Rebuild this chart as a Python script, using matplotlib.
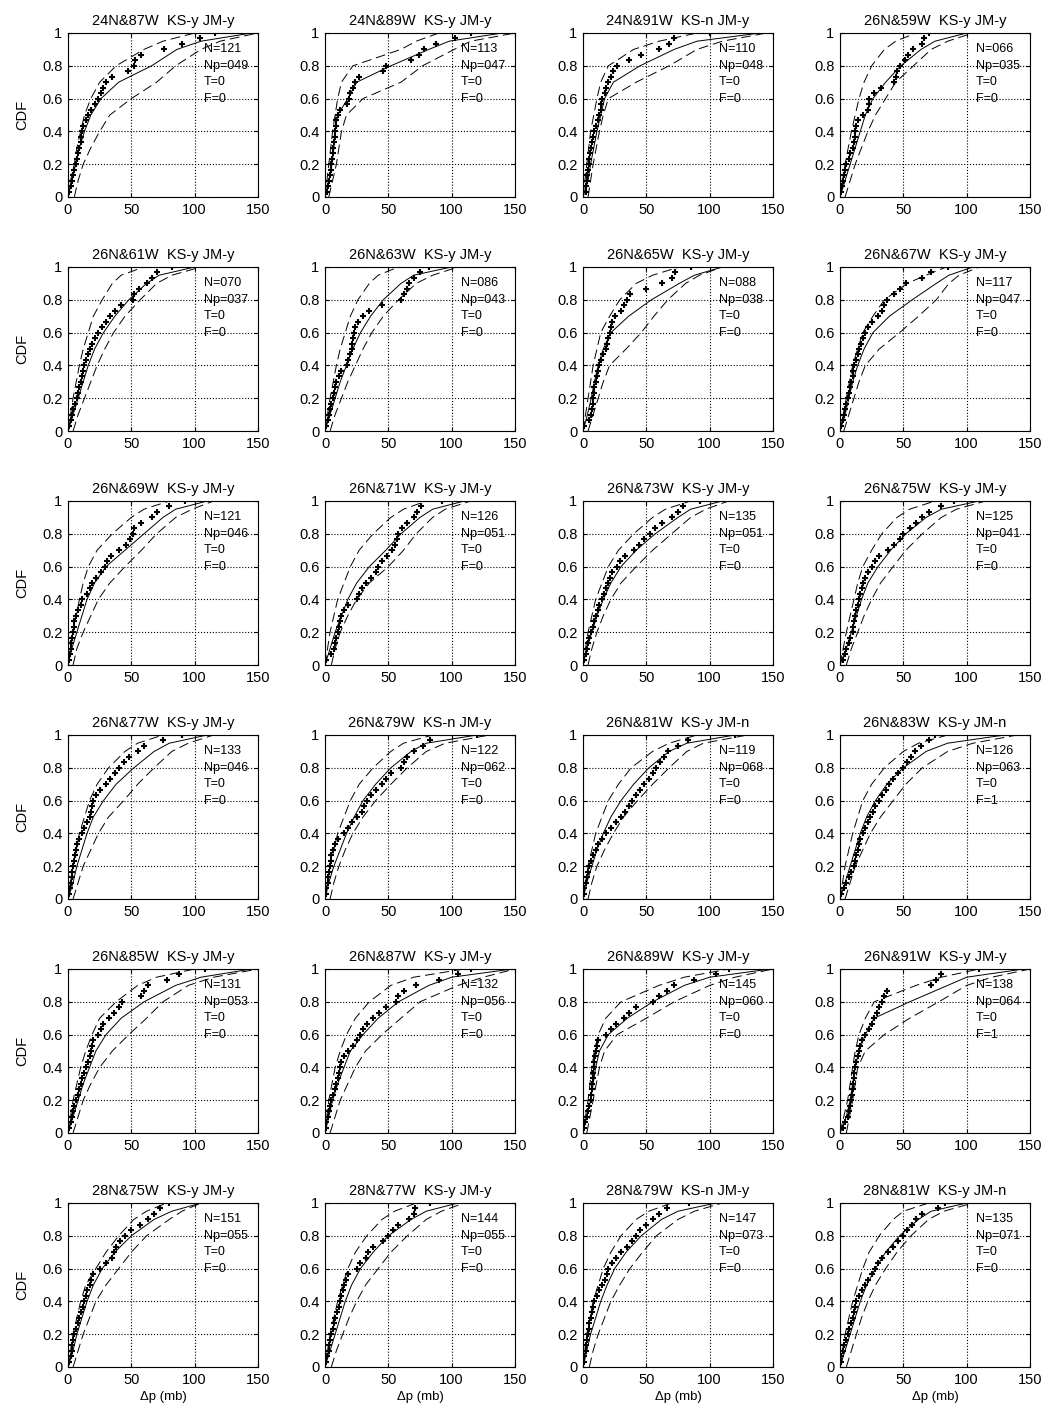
import matplotlib
matplotlib.use("Agg")
import matplotlib.pyplot as plt

plt.rcParams['font.family'] = ['Liberation Sans', 'DejaVu Sans']

# station labels and test results, row by row
stations = ["24N&87W", "24N&89W", "24N&91W", "26N&59W",
            "26N&61W", "26N&63W", "26N&65W", "26N&67W",
            "26N&69W", "26N&71W", "26N&73W", "26N&75W",
            "26N&77W", "26N&79W", "26N&81W", "26N&83W",
            "26N&85W", "26N&87W", "26N&89W", "26N&91W",
            "28N&75W", "28N&77W", "28N&79W", "28N&81W"]
ks_pass = ["y", "y", "n", "y", "y", "y", "y", "y", "y", "y", "y", "y",
           "y", "n", "y", "y", "y", "y", "y", "y", "y", "y", "n", "y"]
jm_pass = ["y", "y", "y", "y", "y", "y", "y", "y", "y", "y", "y", "y",
           "y", "y", "n", "n", "y", "y", "y", "y", "y", "y", "y", "n"]
n_total = [121, 113, 110, 66, 70, 86, 88, 117, 121, 126, 135, 125,
           133, 122, 119, 126, 131, 132, 145, 138, 151, 144, 147, 135]
n_peak = [49, 47, 48, 35, 37, 43, 38, 47, 46, 51, 51, 41,
          46, 62, 68, 63, 53, 56, 60, 64, 55, 55, 73, 71]
t_count = [0] * 24
f_count = [0, 0, 0, 0, 0, 0, 0, 0, 0, 0, 0, 0,
           0, 0, 0, 1, 0, 0, 0, 1, 0, 0, 0, 0]

# CDF levels at which the fitted curve and its bounds are tabulated
cdf_levels = [0, 0.1, 0.2, 0.3, 0.4, 0.5, 0.6, 0.7, 0.8, 0.9, 0.95, 1.0]

# fitted CDF (dp in mb at each level)
fit_dp = [
    [0, 3, 6, 9, 13, 18, 26, 40, 66, 86, 105, 145],
    [0, 3, 5.5, 7, 8, 10, 18, 25, 52, 82, 98, 140],
    [0, 4, 6, 8.5, 11, 14, 17, 24, 45, 72, 90, 140],
    [0, 4, 8, 12, 16, 20, 26, 36, 48, 64, 75, 100],
    [0, 4, 8, 12, 16, 21, 28, 37, 48, 62, 72, 100],
    [0, 4, 8, 12, 17, 22, 28, 36, 46, 60, 70, 100],
    [0, 3.5, 6.5, 9, 12, 16, 22, 36, 54, 76, 88, 110],
    [0, 4, 7, 10, 14, 19, 26, 39, 57, 76, 86, 105],
    [0, 3, 7, 11, 15, 21, 30, 45, 60, 75, 85, 110],
    [0, 4, 8, 13, 18, 25, 35, 48, 60, 75, 85, 110],
    [0, 3, 7, 11, 16, 22, 30, 42, 57, 75, 85, 110],
    [0, 5, 9, 13, 17, 22, 30, 40, 52, 68, 80, 110],
    [0, 4, 7, 11, 15, 20, 28, 38, 52, 68, 80, 110],
    [0, 3, 7, 12, 17, 23, 30, 40, 52, 68, 80, 120],
    [0, 3, 7, 11, 16, 22, 30, 40, 52, 68, 82, 120],
    [0, 4, 8, 12, 16, 21, 28, 37, 50, 68, 85, 130],
    [0, 4, 8, 12, 17, 22, 30, 42, 60, 85, 105, 145],
    [0, 3, 6, 10, 15, 20, 30, 42, 58, 82, 100, 148],
    [0, 3, 6, 8, 10, 13, 20, 35, 55, 80, 100, 148],
    [0, 5, 8, 10, 12, 15, 20, 27, 55, 85, 100, 145],
    [0, 4, 7, 11, 15, 20, 27, 37, 50, 68, 82, 105],
    [0, 4, 8, 12, 16, 21, 28, 38, 50, 68, 80, 105],
    [0, 3, 6, 10, 14, 19, 25, 34, 46, 62, 75, 105],
    [0, 4, 8, 12, 16, 21, 28, 36, 47, 62, 72, 100],
]

# upper confidence bound (reaches high CDF at smaller dp)
upper_dp = [
    [0, 2, 5, 7, 10, 13, 18, 25, 38, 60, 75, 100],
    [0, 1.5, 3, 4.5, 6, 8, 10, 13, 22, 60, 72, 90],
    [0, 1.5, 3, 4.5, 6, 8.5, 11, 14, 20, 40, 60, 90],
    [0, 2, 4, 6.5, 9, 12, 15, 19, 25, 35, 44, 60],
    [0, 2, 4, 6.5, 9, 12, 16, 20, 27, 35, 42, 60],
    [0, 2, 4, 6.5, 9, 12, 16, 20, 26, 35, 42, 58],
    [0, 2, 4, 6, 8, 11, 14, 21, 29, 42, 55, 76],
    [0, 2.5, 5, 7.5, 10, 14, 18, 26, 35, 53, 68, 84],
    [0, 2, 4, 6.5, 9, 12, 16, 23, 35, 50, 60, 80],
    [0, 2, 4, 7, 10, 15, 20, 27, 38, 52, 62, 80],
    [0, 2, 4, 7, 10, 15, 20, 28, 40, 55, 65, 85],
    [0, 2.5, 5, 8, 11, 14, 18, 25, 33, 45, 55, 75],
    [0, 2, 4, 6.5, 9, 13, 17, 23, 32, 45, 55, 75],
    [0, 2, 4, 7, 10, 15, 20, 27, 38, 52, 62, 85],
    [0, 2, 4, 7, 10, 15, 20, 28, 38, 55, 68, 90],
    [0, 2, 4, 7, 10, 14, 18, 25, 35, 50, 62, 85],
    [0, 2, 4, 7, 10, 14, 19, 25, 38, 55, 70, 100],
    [0, 1.5, 3, 5.5, 8, 12, 17, 24, 35, 52, 70, 110],
    [0, 2, 4, 5.5, 7, 9, 12, 18, 30, 60, 80, 115],
    [0, 3, 6, 8, 10, 12, 15, 20, 27, 60, 80, 110],
    [0, 2, 4, 7, 10, 14, 22, 30, 40, 52, 62, 78],
    [0, 2, 4, 7, 10, 14, 18, 24, 33, 45, 55, 72],
    [0, 1.5, 3, 5.5, 8, 12, 16, 22, 30, 42, 52, 70],
    [0, 2, 4, 7, 10, 14, 18, 23, 31, 42, 50, 70],
]

# lower confidence bound
lower_dp = [
    [5, 8, 12, 18, 25, 33, 50, 70, 85, 105, 120, 150],
    [3, 6, 9, 11, 13, 17, 30, 60, 77, 102, 115, 150],
    [4, 6, 8, 10.5, 13, 16, 20, 42, 68, 90, 110, 145],
    [4, 8, 12, 17, 22, 28, 36, 44, 58, 72, 85, 105],
    [4, 8, 13, 18, 23, 29, 36, 45, 57, 70, 82, 105],
    [4, 8, 13, 18, 24, 30, 37, 46, 58, 72, 85, 105],
    [4, 8, 12, 16, 21, 34, 46, 56, 67, 81, 92, 110],
    [3, 7, 11, 15, 20, 31, 47, 62, 76, 86, 94, 110],
    [4, 7, 12, 18, 24, 33, 45, 58, 70, 85, 98, 115],
    [5, 8, 12, 18, 25, 35, 50, 62, 72, 85, 95, 115],
    [4, 7, 11, 16, 22, 30, 42, 55, 70, 85, 97, 115],
    [5, 9, 14, 19, 25, 32, 42, 52, 65, 80, 92, 115],
    [4, 8, 12, 18, 24, 32, 44, 55, 68, 82, 95, 115],
    [4, 7, 11, 16, 22, 30, 40, 52, 65, 80, 95, 130],
    [4, 7, 11, 17, 24, 32, 43, 55, 68, 82, 95, 130],
    [4, 8, 12, 18, 24, 32, 42, 52, 65, 85, 105, 140],
    [4, 8, 12, 18, 25, 35, 48, 62, 75, 95, 115, 150],
    [4, 8, 12, 18, 24, 32, 45, 60, 75, 105, 125, 150],
    [3, 5.5, 8, 10.5, 13, 17, 27, 50, 72, 100, 120, 150],
    [5, 7.5, 10, 12, 14, 20, 35, 55, 78, 100, 120, 150],
    [4, 8, 12, 17, 22, 30, 40, 50, 62, 80, 90, 105],
    [5, 9, 14, 19, 25, 32, 42, 52, 65, 80, 92, 110],
    [5, 8, 12, 17, 22, 29, 37, 47, 58, 75, 88, 110],
    [5, 9, 13, 17, 22, 28, 36, 45, 56, 70, 82, 105],
]

# observed peak pressure deficits (mb), sorted
obs_dp = [
    [1, 2, 3, 4, 5, 6, 7, 8, 9, 10, 10.5, 11, 12, 14, 16, 18, 21, 24, 26, 28, 30, 35, 47, 52, 53, 58, 76, 90, 104, 116],
    [1.5, 2.5, 3, 4, 4.5, 5, 5.5, 6, 6.5, 7, 7.5, 8, 8.5, 9, 10, 12, 17, 19, 20, 22, 24, 27, 46, 48, 68, 74, 78, 88, 103, 115],
    [2, 2.5, 3, 3.5, 4, 4.5, 5, 5.5, 6, 7, 8, 9, 10, 11.5, 13, 14, 14.5, 15, 17, 18.5, 20, 22, 24, 27, 36, 46, 60, 68, 72, 100],
    [1, 1.5, 2, 3, 4, 5, 7, 8, 10, 11, 11.5, 12, 13, 14, 18, 22, 22.5, 23, 27, 32, 43, 44, 45, 47, 51, 54, 58, 65, 66, 70],
    [1, 2, 3, 4, 5.5, 7, 8, 9, 10, 11, 12, 13, 14, 15.5, 17, 19, 21, 24, 27, 30, 33, 37, 42, 51, 52, 56, 62, 66, 70, 82],
    [1, 2, 3, 4, 5, 6, 7, 8, 9, 11, 13, 17, 18, 20, 21, 21.5, 22, 23, 24, 26, 30, 35, 45, 60, 62, 65, 66, 70, 75, 82],
    [0.5, 5, 6.5, 7, 7.5, 8, 8.5, 9, 10, 11, 12, 13, 14.5, 16, 18, 19, 20, 21, 22, 23, 25, 30, 32, 35, 37, 50, 62, 70, 73, 85],
    [0.5, 2, 3, 4, 5, 6, 7, 8, 9, 10, 10.5, 11, 12.5, 14, 15, 16.5, 18, 20, 22, 25, 30, 33, 35, 37, 43, 47, 52, 65, 72, 85],
    [1, 1.5, 2, 2.5, 3, 4, 4.5, 5, 6, 8, 10, 11, 15, 17, 19, 22, 26, 29, 31, 34, 40, 46, 49, 51, 52, 58, 66, 70, 80, 92],
    [0.5, 5, 7, 8, 9, 10, 11, 12, 13, 15, 18, 25, 27, 29, 32, 36, 40, 42, 45, 49, 53, 55, 57, 58, 61, 65, 70, 73, 76, 92],
    [1, 2, 3, 4, 5, 6, 7.5, 9, 10, 11.5, 13, 15, 16.5, 18, 20, 21.5, 23, 27, 29, 33, 40, 44, 48, 53, 57, 62, 70, 75, 79, 92],
    [2, 4, 5, 7, 8, 10, 10.5, 11, 12, 13, 14, 15, 16, 17, 18, 20, 22, 25, 28, 31, 38, 43, 47, 50, 55, 60, 65, 70, 80, 90],
    [1, 1.5, 2, 3, 3.5, 4, 5, 5.5, 6, 7, 9, 11, 13, 15, 17, 18, 19, 20, 22, 25, 30, 33, 37, 40, 44, 48, 55, 60, 75, 90],
    [0.5, 1, 2, 2.5, 3, 4, 4.5, 5, 6, 7.5, 10, 15, 18, 21, 25, 29, 31, 33, 36, 40, 45, 48, 52, 60, 62, 65, 70, 77, 83, 120],
    [0.5, 1, 2, 3, 4, 5, 6.5, 8, 10, 12, 15, 18, 22, 26, 30, 33, 36, 39, 42, 45, 48, 52, 55, 58, 61, 64, 67, 75, 83, 120],
    [1, 3, 5, 7, 9, 11, 12, 13, 14, 15, 16, 18, 20, 22, 24, 26, 28, 31, 33, 36, 39, 42, 46, 50, 53, 56, 59, 64, 70, 75],
    [0.5, 2, 3, 4, 5, 6, 7.5, 9, 10, 11, 12.5, 14, 15.5, 17, 18, 19, 20, 24, 26, 28, 32, 36, 40, 43, 58, 60, 63, 78, 88, 108],
    [0.5, 1, 2, 3, 4, 5, 6, 7.5, 9, 10, 11, 12, 13, 15, 18, 22, 25, 28, 30, 33, 38, 43, 48, 56, 58, 62, 72, 90, 105, 115],
    [0.5, 1.5, 3, 4, 5, 6, 6.5, 7, 7.3, 7.6, 8, 8.3, 8.7, 9.2, 10, 11, 12, 18, 22, 26, 32, 36, 42, 55, 60, 66, 72, 88, 105, 115],
    [2, 4, 6, 7, 8, 9, 9.5, 10, 10.3, 10.7, 11, 12, 13, 14, 15, 16, 17.5, 20, 23, 25, 27, 29, 31, 33, 35, 37, 72, 76, 80, 110],
    [1, 2, 3, 3.5, 4, 5, 6.5, 8, 9, 10.5, 12, 13, 14, 15, 17, 18.5, 20, 25, 30, 35, 36, 38, 41, 45, 50, 57, 63, 68, 73, 80],
    [0.5, 1.5, 3, 3.5, 4, 5, 6, 7, 8, 9.5, 11, 12, 13, 14, 15, 16.5, 18, 25, 28, 32, 34, 38, 46, 50, 54, 58, 66, 70, 71, 83],
    [0.5, 1, 2, 2.5, 3, 4, 4.5, 5, 6, 7, 8, 9, 11, 13, 15, 17, 19, 20, 23, 26, 30, 35, 39, 42, 45, 50, 55, 60, 66, 84],
    [0.5, 1, 2, 3, 4.5, 6, 7, 8.5, 10, 11, 12, 13, 15, 17, 20, 22, 25, 28, 30, 33, 38, 42, 46, 50, 53, 57, 60, 65, 77, 83],
]

fig = plt.figure(figsize=(10.49, 14.18), dpi=100)

W, H = 1049.0, 1418.0
col_left = [68, 325, 583, 840]
row_top = [33, 267, 501, 735, 969, 1203]
ax_w, ax_h = 190, 164
dash = (0, (10, 5))

for i in range(24):
    r, c = divmod(i, 4)
    ax = fig.add_axes([col_left[c] / W, 1 - (row_top[r] + ax_h) / H,
                       ax_w / W, ax_h / H])

    ax.plot(fit_dp[i], cdf_levels, color='k', lw=0.7)
    ax.plot(upper_dp[i], cdf_levels, color='k', lw=0.7, ls=dash)
    ax.plot(lower_dp[i], cdf_levels, color='k', lw=0.7, ls=dash)

    # empirical CDF of the observations
    obs = sorted(obs_dp[i])
    n = len(obs)
    ecdf = [(k + 1) / n for k in range(n)]
    ax.plot(obs, ecdf, ls='none', marker='+', ms=4, mew=1.5, color='k')

    ax.set_xlim(0, 150)
    ax.set_ylim(0, 1)
    ax.set_xticks([0, 50, 100, 150])
    ax.set_yticks([0, 0.2, 0.4, 0.6, 0.8, 1.0])
    ax.set_yticklabels(['0', '0.2', '0.4', '0.6', '0.8', '1'])
    ax.grid(True, ls=':', color='k', lw=0.8)
    ax.tick_params(direction='in', length=3, labelsize=10.5, pad=4,
                   top=True, right=True)
    for sp in ax.spines.values():
        sp.set_linewidth(0.8)

    ax.set_title(f"{stations[i]}  KS-{ks_pass[i]} JM-{jm_pass[i]}",
                 fontsize=10.5, pad=5.5)

    labels = [f"N={n_total[i]:03d}", f"Np={n_peak[i]:03d}",
              f"T={t_count[i]}", f"F={f_count[i]}"]
    for txt, yv in zip(labels, [0.9, 0.8, 0.7, 0.6]):
        ax.text(107, yv, txt, fontsize=9, va='center', ha='left')

    if c == 0:
        ax.set_ylabel("CDF", fontsize=10.5, labelpad=9)
    if r == 5:
        ax.set_xlabel("Δp (mb)", fontsize=9.5, labelpad=3)

fig.savefig("out.png", dpi=100)
